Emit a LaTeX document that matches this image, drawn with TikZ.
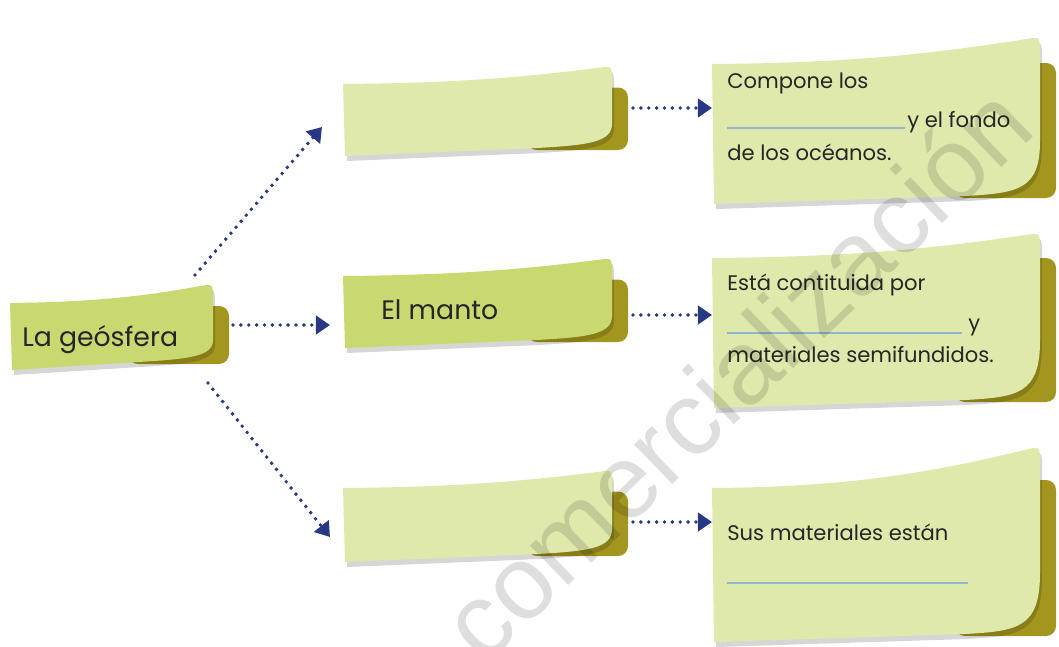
\documentclass[tikz,border=0pt]{standalone}
\usepackage{fontspec}
\setmainfont{Poppins}
\newfontfamily\markfont{Liberation Sans}
\usetikzlibrary{arrows.meta}

\definecolor{notelight}{HTML}{DFE9AC}
\definecolor{notegreen}{HTML}{C9D96F}
\definecolor{tabolive}{HTML}{A3961E}
\definecolor{arrownavy}{HTML}{283887}
\definecolor{blankline}{HTML}{93B3CF}
\definecolor{inkgray}{HTML}{262626}

% outline of a curled note: x1, y1 (top left), x2, y2 (bottom left), rise
\newcommand{\notepath}[5]{({#1},{#2}) .. controls ({#1+0.45*(#3-#1)},{#2-1}) and ({#3-0.3*(#3-#1)},{#2-0.45*#5}) .. ({#3-7},{#2-#5})
  .. controls ({#3-1},{#2-#5}) .. ({#3},{#2-#5+7})
  -- ({#3},{#4-0.45*(#4-#2)})
  .. controls ({#3},{#4-14}) and ({#3-22},{#4-11}) .. ({#3-75},{#4-8})
  -- ({#1+2},{#4}) -- cycle}

% fill, x1, y1, x2, y2, rise
\newcommand{\stickynote}[6]{%
  \fill[tabolive, rounded corners=7pt] ({#4-85},{#3-0.5*#6+12}) rectangle ({#4+16},{#5-6});
  \fill[black, opacity=.16, shift={(2,5)}] \notepath{#2}{#3}{#4}{#5}{#6};
  \fill[#1] \notepath{#2}{#3}{#4}{#5}{#6};
}

\tikzset{
  dotarrow/.style={arrownavy, line width=2.8pt, line cap=round,
    dash pattern=on 0pt off 5.6pt, -{Triangle[length=10pt,width=13pt]}},
  notetext/.style={anchor=base west, inner sep=0pt, text=inkgray,
    font=\fontsize{15}{18}\selectfont},
  bigtext/.style={anchor=base west, inner sep=0pt, text=inkgray,
    font=\fontsize{19}{22}\selectfont},
  blank/.style={blankline, line width=1pt}
}

\begin{document}
\begin{tikzpicture}[x=0.025cm, y=-0.025cm]
\useasboundingbox (0,0) rectangle (1059,646);

% notes
\stickynote{notegreen}{10}{303}{213}{370}{18}
\stickynote{notelight}{343}{84}{612}{156}{17}
\stickynote{notegreen}{343}{276}{612}{348}{17}
\stickynote{notelight}{343}{488}{612}{562}{17}
\stickynote{notelight}{712}{64}{1040}{204}{26}
\stickynote{notelight}{712}{258}{1040}{408}{24}
\stickynote{notelight}{712}{488}{1040}{642}{40}

% texts
\node[bigtext] (geo) at (22,346) {La geósfera};
\node[bigtext] (manto) at (381,319) {El manto};
\node[notetext] (crustinfo) at (727,88) {Compone los};
\node[notetext] (crustinfo2) at (907,127) {y el fondo};
\node[notetext] (crustinfo3) at (727,160) {de los océanos.};
\node[notetext] (mantleinfo) at (727,290) {Está contituida por};
\node[notetext] (mantleinfo2) at (968,330) {y};
\node[notetext] (mantleinfo3) at (727,362) {materiales semifundidos.};
\node[notetext] (coreinfo) at (727,540) {Sus materiales están};

% blanks
\draw[blank] (727,128) -- (905,128);
\draw[blank] (727,333) -- (962,333);
\draw[blank] (727,583) -- (968,583);

% arrow ends
\coordinate (geo-up) at (195,275);
\coordinate (geo-out) at (233,325);
\coordinate (geo-down) at (208,383);
\coordinate (crust-in) at (322,127);
\coordinate (manto-in) at (330,325);
\coordinate (core-in) at (330,537);
\coordinate (crust-out) at (633,108);
\coordinate (manto-out) at (633,315);
\coordinate (core-out) at (633,522);
\coordinate (crustinfo-in) at (712,108);
\coordinate (mantleinfo-in) at (712,315);
\coordinate (coreinfo-in) at (712,522);

\draw[dotarrow] (geo-up) -- (crust-in);
\draw[dotarrow] (geo-out) -- (manto-in);
\draw[dotarrow] (geo-down) -- (core-in);
\draw[dotarrow] (crust-out) -- (crustinfo-in);
\draw[dotarrow] (manto-out) -- (mantleinfo-in);
\draw[dotarrow] (core-out) -- (coreinfo-in);

% watermark
\begin{scope}
\clip (0,0) rectangle (1059,646);
\node[rotate=44, text=black, opacity=.13, font=\markfont\fontsize{74}{74}\selectfont] (mark) at (735,372) {comercialización};
\end{scope}
\end{tikzpicture}
\end{document}
